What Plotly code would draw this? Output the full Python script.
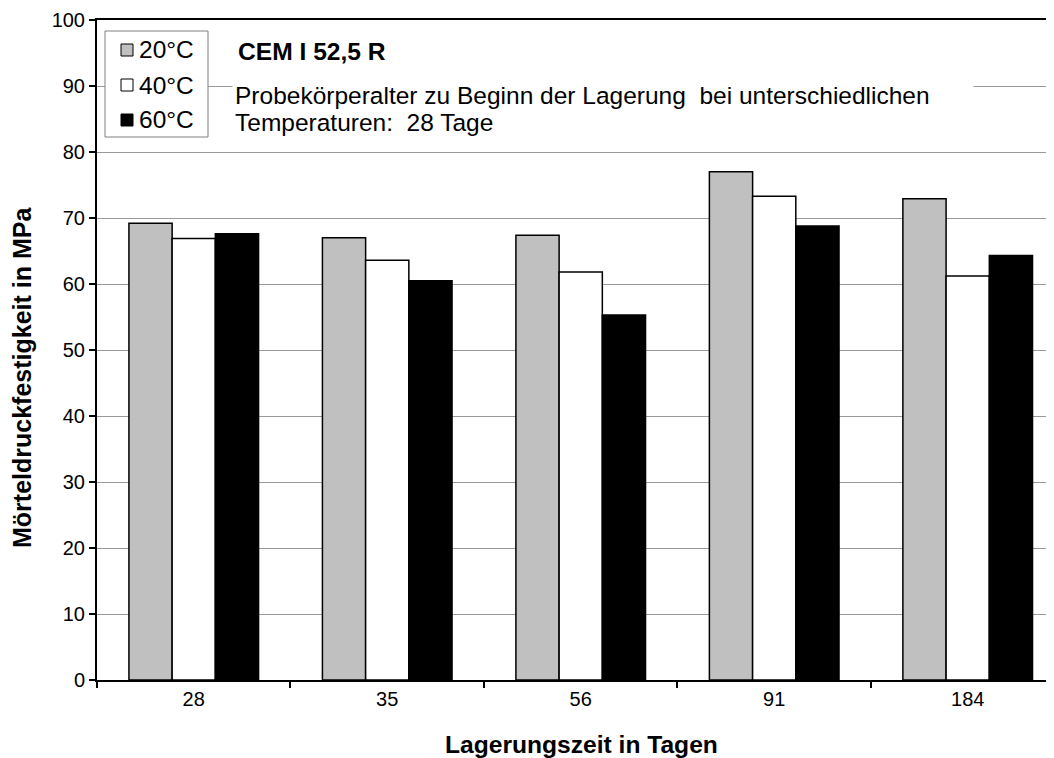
import plotly.graph_objects as go

categories = ["28", "35", "56", "91", "184"]
series_names = ["20°C", "40°C", "60°C"]
values_20 = [69.2, 67.0, 67.4, 77.0, 72.9]
values_40 = [66.9, 63.6, 61.8, 73.3, 61.2]
values_60 = [67.6, 60.5, 55.3, 68.8, 64.3]
colors = ["#C0C0C0", "#FFFFFF", "#000000"]
y_ticks = [0, 10, 20, 30, 40, 50, 60, 70, 80, 90, 100]

FONT = "Liberation Sans, Arial, Helvetica, sans-serif"
OFF = 8  # browser body margin
W, H = 1054 - OFF, 758 - OFF
ML, MR, MT, MB = 97 - OFF, 0, 20 - OFF, 758 - 680
PW = W - ML - MR
PH = H - MT - MB


def px_x(px):
    # page pixel -> paper coordinate
    return (px - OFF - ML) / PW


def px_y(py):
    return 1 - (py - OFF - MT) / PH


fig = go.Figure()
for name, vals, col in zip(series_names, [values_20, values_40, values_60], colors):
    fig.add_trace(go.Bar(
        x=categories, y=vals, name=name,
        marker=dict(color=col, line=dict(color="#000000", width=1.5)),
        showlegend=False,
    ))

fig.update_layout(
    width=W, height=H,
    margin=dict(l=ML, r=MR, t=MT, b=MB, pad=0),
    paper_bgcolor="white", plot_bgcolor="white",
    barmode="group", bargap=0.33, bargroupgap=0,
    font=dict(family=FONT, color="black", size=20),
    xaxis=dict(
        type="category", range=[-0.5, 4.446],
        showline=True, linecolor="black", linewidth=2, mirror=True,
        ticks="outside", ticklen=6, tickwidth=1.5, tickcolor="black",
        tickson="boundaries", showgrid=False, zeroline=False,
        tickfont=dict(size=20),
    ),
    yaxis=dict(
        range=[0, 100], tickvals=y_ticks,
        showline=True, linecolor="black", linewidth=2,
        ticks="outside", ticklen=6, tickwidth=1.5, tickcolor="black",
        showgrid=True, gridcolor="#9A9A9A", gridwidth=1.2, zeroline=False,
        tickfont=dict(size=20),
    ),
)

annotations = [
    dict(text="<b>Mörteldruckfestigkeit in MPa</b>", xref="paper", yref="paper",
         x=px_x(22), y=px_y(378), textangle=-90, showarrow=False,
         xanchor="center", yanchor="middle", font=dict(size=25, family=FONT)),
    dict(text="<b>Lagerungszeit in Tagen</b>", xref="paper", yref="paper",
         x=px_x(581), y=px_y(745), showarrow=False,
         xanchor="center", yanchor="middle", font=dict(size=24.6, family=FONT)),
    dict(text="<b>CEM I 52,5 R</b>", xref="paper", yref="paper",
         x=px_x(236), y=px_y(51), showarrow=False,
         xanchor="left", yanchor="middle", font=dict(size=24.6, family=FONT)),
    dict(text="Probekörperalter zu Beginn der Lagerung \u00a0bei unterschiedlichen",
         xref="paper", yref="paper", x=px_x(232), y=px_y(95), showarrow=False,
         xanchor="left", yanchor="middle", align="left", width=736,
         bgcolor="white", borderpad=2,
         font=dict(size=24.5, family=FONT)),
    dict(text="Temperaturen: \u00a028 Tage",
         xref="paper", yref="paper", x=px_x(232), y=px_y(123), showarrow=False,
         xanchor="left", yanchor="middle", align="left", width=736,
         borderpad=2,
         font=dict(size=24.5, family=FONT)),
]

# manual legend (box, swatches, labels)
shapes = [
    dict(type="rect", xref="paper", yref="paper",
         x0=px_x(105), x1=px_x(208), y0=px_y(137), y1=px_y(31),
         fillcolor="white", line=dict(color="#808080", width=1), layer="above"),
]
legend_rows = [50, 85, 120]
for name, col, yc in zip(series_names, colors, legend_rows):
    shapes.append(dict(type="rect", xref="paper", yref="paper",
                       x0=px_x(121), x1=px_x(133), y0=px_y(yc + 6), y1=px_y(yc - 6),
                       fillcolor=col, line=dict(color="black", width=1), layer="above"))
    annotations.append(dict(text=name, xref="paper", yref="paper",
                            x=px_x(137), y=px_y(yc), showarrow=False,
                            xanchor="left", yanchor="middle",
                            font=dict(size=24.5, family=FONT)))

fig.update_layout(annotations=annotations, shapes=shapes)

fig.write_html("out.html")
